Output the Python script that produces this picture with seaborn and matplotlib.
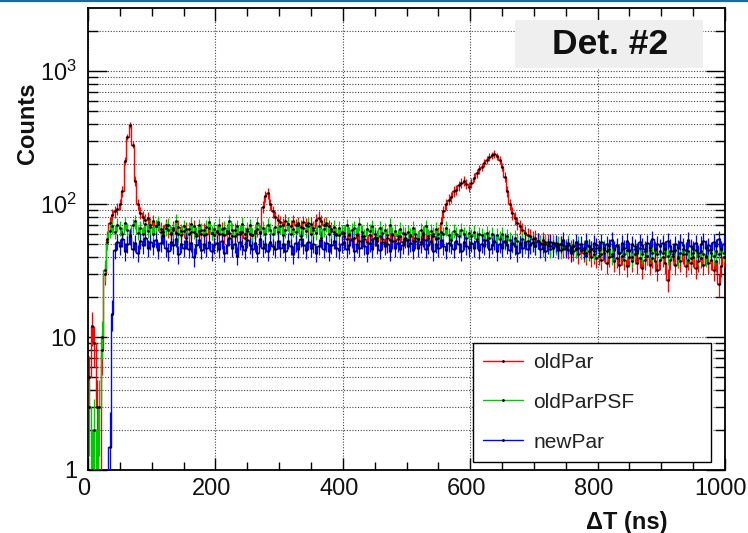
import numpy as np
import pandas as pd
import matplotlib
matplotlib.use("Agg")
import matplotlib.pyplot as plt
import matplotlib.ticker as mticker
import matplotlib.transforms as mtransforms
from matplotlib.lines import Line2D
from matplotlib.patches import Rectangle
import seaborn as sns

# ---------------- data (counts per bin, 4 ns bins from 0 to 1000 ns) ----------------
bin_width = 4
x_min, x_max = 0, 1000

old_par = [
    5, 12, 9, 3, 0, 8, 30, 55, 72, 82, 88, 92, 100, 125, 210, 320, 395, 280, 150, 100, 86, 80, 76, 78, 70,
    74, 68, 71, 65, 62, 69, 64, 60, 66, 61, 67, 58, 63, 65, 59, 62, 68, 57, 63, 60, 64, 59, 66, 61, 58,
    62, 60, 65, 58, 63, 61, 57, 64, 60, 59, 62, 56, 63, 60, 58, 61, 65, 62, 95, 115, 120, 100, 88, 80, 76,
    73, 70, 75, 71, 68, 74, 69, 72, 67, 73, 70, 68, 71, 66, 76, 79, 74, 70, 72, 68, 65, 62, 60, 58, 61,
    57, 55, 59, 54, 56, 58, 53, 57, 55, 52, 58, 54, 56, 53, 57, 55, 51, 56, 54, 58, 53, 55, 57, 52, 56,
    54, 57, 53, 56, 55, 52, 58, 54, 56, 53, 57, 55, 60, 72, 88, 100, 108, 112, 125, 128, 138, 145, 150, 142, 135,
    145, 158, 170, 182, 190, 205, 215, 225, 232, 238, 228, 215, 190, 160, 125, 100, 85, 78, 72, 68, 64, 61, 58, 57, 55,
    56, 53, 51, 54, 50, 52, 48, 51, 49, 47, 50, 46, 48, 45, 47, 44, 46, 42, 45, 43, 41, 44, 40, 42, 39,
    41, 38, 43, 36, 40, 42, 37, 39, 35, 41, 38, 34, 40, 37, 42, 36, 39, 33, 38, 41, 35, 39, 37, 32, 38,
    40, 36, 27, 38, 41, 35, 39, 37, 42, 34, 38, 36, 40, 33, 37, 39, 35, 41, 36, 38, 32, 37, 25, 34, 40,
]

old_par_psf = [
    3, 1, 2, 1, 3, 10, 32, 52, 63, 68, 62, 70, 66, 60, 72, 64, 58, 69, 74, 61, 66, 59, 71, 63, 67,
    60, 68, 73, 62, 57, 66, 70, 61, 64, 75, 59, 63, 68, 56, 65, 71, 62, 60, 69, 64, 58, 67, 73, 61, 65,
    63, 70, 59, 66, 61, 74, 64, 57, 68, 62, 71, 60, 65, 69, 58, 63, 72, 61, 66, 59, 70, 64, 60, 67, 62,
    68, 58, 64, 71, 60, 65, 62, 69, 57, 66, 63, 72, 59, 64, 61, 68, 56, 65, 70, 60, 63, 67, 58, 66, 62,
    61, 69, 58, 64, 66, 59, 71, 62, 57, 65, 63, 68, 60, 56, 66, 61, 64, 58, 70, 60, 63, 57, 65, 61, 59,
    62, 58, 66, 60, 55, 64, 61, 68, 57, 63, 59, 65, 56, 62, 60, 66, 58, 54, 63, 60, 57, 64, 59, 56, 61,
    57, 62, 55, 60, 58, 54, 61, 56, 59, 53, 58, 55, 60, 52, 57, 54, 50, 56, 53, 51, 55, 49, 53, 50, 52,
    48, 53, 50, 47, 52, 49, 46, 51, 48, 50, 45, 49, 47, 51, 44, 48, 46, 50, 45, 47, 43, 48, 46, 44, 47,
    45, 42, 47, 44, 46, 41, 45, 48, 43, 46, 42, 45, 44, 40, 46, 43, 47, 42, 44, 41, 45, 43, 46, 42, 44,
    43, 46, 41, 44, 42, 45, 40, 43, 46, 42, 44, 39, 43, 45, 41, 44, 42, 40, 45, 43, 41, 44, 42, 46, 43,
]

new_par = [
    0, 0, 0, 0, 0, 0, 0, 0, 1.5, 15, 45, 52, 48, 55, 44, 50, 57, 46, 51, 43, 53, 49, 56, 47, 52,
    48, 54, 45, 51, 58, 47, 44, 52, 49, 55, 42, 50, 47, 53, 46, 51, 40, 49, 54, 45, 50, 47, 52, 44, 49,
    51, 46, 53, 43, 49, 56, 47, 50, 41, 52, 48, 45, 54, 49, 46, 51, 43, 55, 47, 50, 44, 52, 48, 46, 53,
    47, 50, 44, 53, 48, 42, 51, 46, 55, 49, 45, 52, 47, 50, 43, 48, 54, 46, 51, 44, 49, 53, 47, 45, 50,
    52, 46, 49, 55, 44, 50, 47, 53, 48, 43, 51, 46, 56, 49, 45, 52, 48, 50, 44, 53, 47, 51, 46, 49, 54,
    48, 51, 45, 53, 47, 50, 55, 46, 49, 52, 44, 50, 47, 54, 48, 45, 51, 49, 46, 53, 50, 44, 52, 48, 47,
    51, 47, 53, 45, 50, 48, 54, 46, 49, 52, 44, 50, 47, 53, 49, 45, 51, 48, 43, 50, 47, 52, 46, 49, 51,
    48, 53, 46, 50, 44, 49, 52, 47, 51, 45, 50, 54, 46, 49, 43, 48, 52, 47, 50, 45, 53, 48, 46, 51, 49,
    47, 52, 45, 50, 48, 54, 46, 49, 43, 51, 47, 53, 45, 50, 48, 44, 52, 49, 46, 51, 47, 55, 45, 50, 48,
    51, 46, 53, 48, 44, 50, 47, 52, 49, 45, 54, 48, 46, 51, 43, 50, 53, 47, 49, 45, 52, 48, 55, 46, 50,
]

series_names = ["oldPar", "oldParPSF", "newPar"]
series_values = [old_par, old_par_psf, new_par]
series_colors = ["#ff0000", "#00c800", "#0000ff"]

y_tick_values = [1, 10, 100, 1000]
y_tick_labels = ["1", "10", r"$10^{2}$", r"$10^{3}$"]
x_tick_values = [0, 200, 400, 600, 800, 1000]
x_tick_labels = ["0", "200", "400", "600", "800", "1000"]

title_text = "Det. #2"
x_label = "\u0394T (ns)"
y_label = "Counts"

# ---------------- style ----------------
sns.set_style("ticks")
plt.rcParams["font.family"] = ["Liberation Sans", "DejaVu Sans"]
plt.rcParams["mathtext.fontset"] = "custom"
plt.rcParams["mathtext.rm"] = "Liberation Sans"
plt.rcParams["mathtext.it"] = "Liberation Sans:italic"
plt.rcParams["mathtext.bf"] = "Liberation Sans:bold"

W, H = 748, 533
fig = plt.figure(figsize=(W / 100, H / 100), dpi=100)
fig.patch.set_facecolor("white")

L, R, T, B = 88, 725, 8, 470
ax = fig.add_axes([L / W, 1 - B / H, (R - L) / W, (B - T) / H])
ax.set_facecolor("white")

edges = np.arange(x_min, x_max + bin_width, bin_width)
centers = edges[:-1] + bin_width / 2

for name, vals, col in zip(series_names, series_values, series_colors):
    v = np.asarray(vals, dtype=float)
    df = pd.DataFrame({"t": centers, "w": v})
    sns.histplot(data=df, x="t", weights="w", binwidth=bin_width, binrange=(x_min, x_max),
                 element="step", fill=False, color=col, linewidth=1.0, ax=ax, zorder=3)
    ax.errorbar(centers, v, yerr=np.sqrt(v), fmt="none", ecolor=col,
                elinewidth=0.9, capsize=0, zorder=3)
    ax.plot(centers, v, linestyle="none", marker="o", markersize=1.0,
            markerfacecolor="black", markeredgecolor="black", zorder=4)

ax.set_yscale("log", nonpositive="clip")
ax.set_xlim(x_min, x_max)
ax.set_ylim(1, 2978)

# ticks
ax.set_xticks(x_tick_values)
ax.set_xticklabels(x_tick_labels)
ax.xaxis.set_minor_locator(mticker.MultipleLocator(50))
ax.set_yticks(y_tick_values)
ax.set_yticklabels(y_tick_labels)
ax.yaxis.set_minor_locator(mticker.LogLocator(base=10, subs=np.arange(2, 10), numticks=20))
ax.yaxis.set_minor_formatter(mticker.NullFormatter())

ax.tick_params(axis="both", which="both", direction="in", top=True, right=True,
               color="black", width=1.0, labelsize=17, labelcolor="#111111")
ax.tick_params(axis="x", which="major", length=9, pad=6)
ax.tick_params(axis="x", which="minor", length=5.5)
ax.tick_params(axis="y", which="major", length=14, pad=8)
ax.tick_params(axis="y", which="minor", length=7)

# shift x tick labels slightly to the left (as in the reference)
shift = mtransforms.ScaledTranslation(-4 / 100, 0, fig.dpi_scale_trans)
for lab in ax.get_xticklabels():
    lab.set_transform(lab.get_transform() + shift)

# grid
ax.grid(True, axis="x", which="major", color="#444444", linestyle=(0, (1, 1.5)), linewidth=0.8)
ax.grid(True, axis="y", which="both", color="#444444", linestyle=(0, (1, 1.5)), linewidth=0.8)
ax.set_axisbelow(True)

for s in ax.spines.values():
    s.set_color("black")
    s.set_linewidth(1.3)
    s.set_zorder(2.9)

ax.set_xlabel("")
ax.set_ylabel("")

# axis titles (ROOT style: at the ends of the axes)
fig.text(667 / W, 1 - 522 / H, x_label, ha="right", va="center",
         fontsize=17, fontweight="bold", color="#111111")
fig.text(28 / W, 1 - 123 / H, y_label, ha="center", va="center", rotation=90,
         fontsize=17, fontweight="bold", color="#111111")

# title box
fig.patches.append(Rectangle((515 / W, 1 - 68 / H), 188 / W, 48 / H,
                             transform=fig.transFigure, facecolor="#efefef",
                             edgecolor="none", zorder=10))
fig.text(610 / W, 1 - 45 / H, title_text, ha="center", va="center",
         fontsize=25.5, fontweight="bold", color="#111111", zorder=11)

# legend
handles = [Line2D([0], [0], color=c, linewidth=1.0, marker="o", markersize=1.0,
                  markerfacecolor="black", markeredgecolor="black")
           for c in series_colors]
leg = ax.legend(handles, series_names, loc="lower left",
                bbox_to_anchor=((473 - L) / (R - L), (B - 462) / (B - T), (711 - 473) / (R - L), 0.2),
                mode="expand", borderaxespad=0, fontsize=15, frameon=True, fancybox=False,
                edgecolor="black", facecolor="white", framealpha=1.0,
                handlelength=1.9, handletextpad=0.5, labelspacing=1.0, borderpad=0.5,
                numpoints=1)
leg.get_frame().set_linewidth(1.0)
leg.set_zorder(8)
for t in leg.get_texts():
    t.set_color("#222222")

# thin blue border line at the top of the picture
fig.add_artist(Line2D([0, 1], [1 - 1 / H, 1 - 1 / H], transform=fig.transFigure,
                      color="#1d6a9a", linewidth=1.6))

fig.savefig("out.png", dpi=100)
